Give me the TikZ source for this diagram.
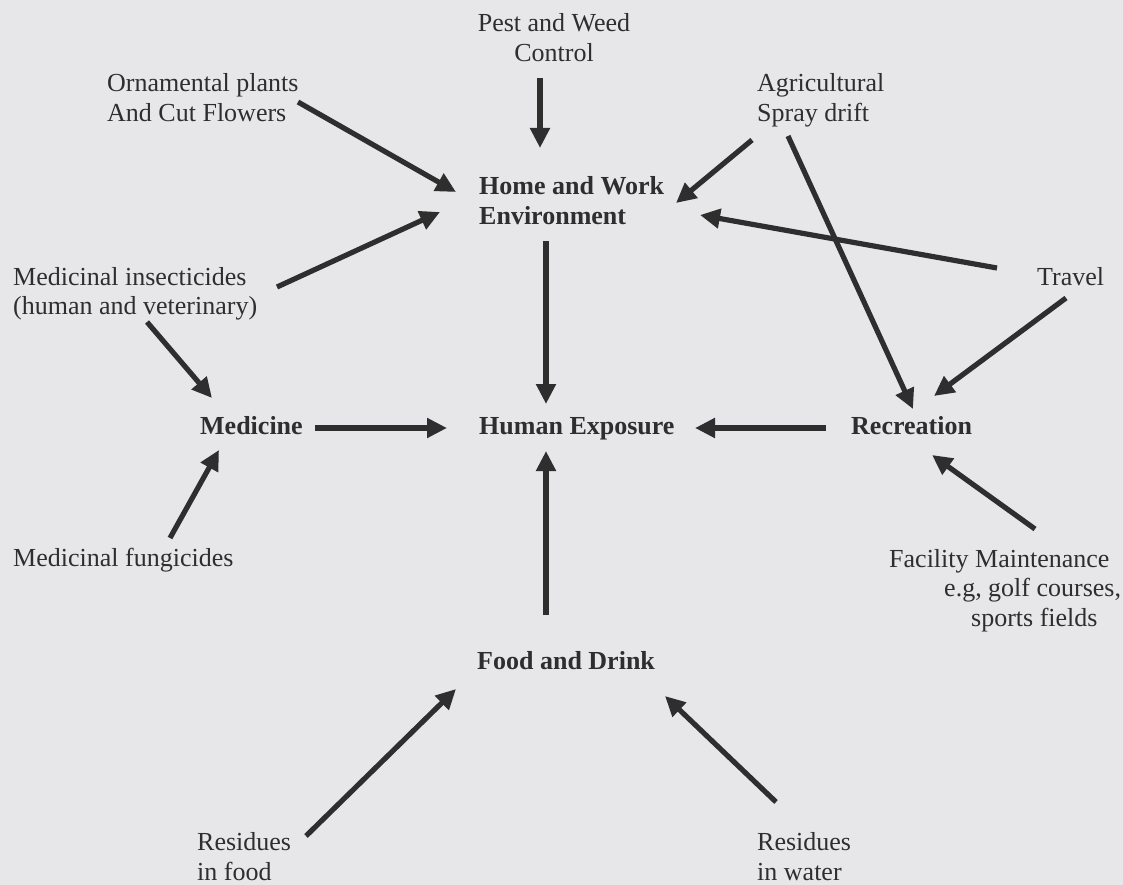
\documentclass[tikz,border=0pt]{standalone}
\usepackage{fontspec}
\setmainfont{Liberation Serif}
\usetikzlibrary{arrows.meta}
\definecolor{bg}{HTML}{E7E7EA}
\definecolor{ink}{HTML}{2E2E2E}
\tikzset{
  lbl/.style={inner sep=0pt, text=ink, font=\fontsize{26}{29.5}\selectfont, align=left, anchor=base west},
  hub/.style={lbl, font=\fontsize{26}{29.5}\selectfont\bfseries},
  arr/.style={draw=ink, line width=5.2pt, -{Triangle[length=20pt,width=19pt]}, fill=ink}
}
\begin{document}
\begin{tikzpicture}[x=1pt,y=-1pt]
\fill[bg] (0,0) rectangle (1123,885);
\useasboundingbox (0,0) rectangle (1123,885);

% labels (anchor = baseline of the last line)
\node[lbl, align=center, anchor=base] (pest) at (554,61.5) {Pest and Weed\\Control};
\node[lbl] (orn) at (107,121.5) {Ornamental plants\\And Cut Flowers};
\node[lbl] (agr) at (757,121.5) {Agricultural\\Spray drift};
\node[hub] (home) at (479,224.5) {Home and Work\\Environment};
\node[lbl] (mins) at (13,314.5) {Medicinal insecticides\\(human and veterinary)};
\node[lbl] (trav) at (1037,285) {Travel};
\node[hub] (med) at (200,434) {Medicine};
\node[hub] (hum) at (479,434) {Human Exposure};
\node[hub] (rec) at (851,434) {Recreation};
\node[lbl] (mfun) at (13,566) {Medicinal fungicides};
\node[lbl] (fac) at (889,626) {Facility Maintenance\\\hspace*{55pt}e.g, golf courses,\\\hspace*{82pt}sports fields};
\node[hub] (food) at (477,669) {Food and Drink};
\node[lbl] (rfood) at (197,880) {Residues\\in food};
\node[lbl] (rwat) at (757,880) {Residues\\in water};

% arrow end points
\coordinate (a1s) at (540,78);   \coordinate (a1e) at (540,148);
\coordinate (a2s) at (298,102);  \coordinate (a2e) at (456,192);
\coordinate (a3s) at (277,287);  \coordinate (a3e) at (440,212);
\coordinate (a4s) at (752,140);  \coordinate (a4e) at (676,203);
\coordinate (a5s) at (788,136);  \coordinate (a5e) at (913,409);
\coordinate (a6s) at (997,268);  \coordinate (a6e) at (700,215);
\coordinate (a7s) at (1066,298); \coordinate (a7e) at (934,396);
\coordinate (a8s) at (546,241);  \coordinate (a8e) at (546,404);
\coordinate (a9s) at (315,428);  \coordinate (a9e) at (447,428);
\coordinate (a10s) at (826,428); \coordinate (a10e) at (695,428);
\coordinate (a11s) at (147,322); \coordinate (a11e) at (212,398);
\coordinate (a12s) at (170,538); \coordinate (a12e) at (219,450);
\coordinate (a13s) at (1035,529);\coordinate (a13e) at (932,455);
\coordinate (a14s) at (546,615); \coordinate (a14e) at (546,451);
\coordinate (a15s) at (306,836); \coordinate (a15e) at (456,689);
\coordinate (a16s) at (776,802); \coordinate (a16e) at (665,696);

\draw[arr] (a1s) -- (a1e);
\draw[arr] (a2s) -- (a2e);
\draw[arr] (a3s) -- (a3e);
\draw[arr] (a4s) -- (a4e);
\draw[arr] (a5s) -- (a5e);
\draw[arr] (a6s) -- (a6e);
\draw[arr] (a7s) -- (a7e);
\draw[arr] (a8s) -- (a8e);
\draw[arr] (a9s) -- (a9e);
\draw[arr] (a10s) -- (a10e);
\draw[arr] (a11s) -- (a11e);
\draw[arr] (a12s) -- (a12e);
\draw[arr] (a13s) -- (a13e);
\draw[arr] (a14s) -- (a14e);
\draw[arr] (a15s) -- (a15e);
\draw[arr] (a16s) -- (a16e);
\end{tikzpicture}
\end{document}
